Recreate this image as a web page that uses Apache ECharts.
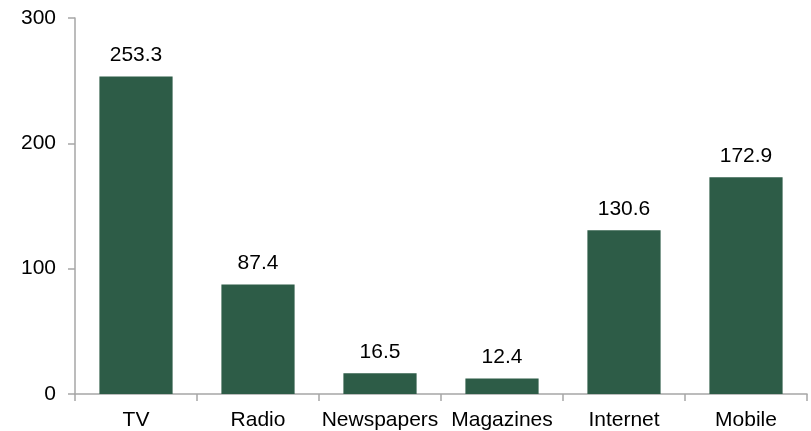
<!DOCTYPE html>
<html><head><meta charset="utf-8">
<script src="https://cdn.jsdelivr.net/npm/echarts@6/dist/echarts.min.js"></script>
<style>html,body{margin:0;padding:0;background:#fff}#c{width:811px;height:431px}</style>
</head><body><div id="c"></div>
<script>
const categories = ["TV","Radio","Newspapers","Magazines","Internet","Mobile"];
const values = [253.3, 87.4, 16.5, 12.4, 130.6, 172.9];
const yTicks = [0, 100, 200, 300];
const chart = echarts.init(document.getElementById('c'));
const font = 'Liberation Sans, Arial, sans-serif';
chart.setOption({
  animation: false,
  grid: {left: 75, right: 4, top: 18, bottom: 37},
  xAxis: {
    type: 'category', data: categories,
    axisLine: {lineStyle: {color: '#A6A6A6', width: 1.5}},
    axisTick: {show: true, length: 7, alignWithLabel: false, interval: 0, lineStyle: {color: '#A6A6A6', width: 1.5}},
    axisLabel: {color: '#000', fontSize: 21, fontFamily: font, margin: 16, interval: 0, hideOverlap: false}
  },
  yAxis: {
    type: 'value', min: yTicks[0], max: yTicks[yTicks.length-1], interval: 100,
    splitLine: {show: false},
    axisLine: {show: true, lineStyle: {color: '#A6A6A6', width: 1.5}},
    axisTick: {show: true, length: 7, lineStyle: {color: '#A6A6A6', width: 1.5}},
    axisLabel: {color: '#000', fontSize: 21, fontFamily: font, margin: 19}
  },
  series: [{
    type: 'bar', data: values, barCategoryGap: '40%',
    itemStyle: {color: '#2D5C47'},
    label: {show: true, position: 'top', distance: 11, color: '#000', fontSize: 21, fontFamily: font,
      formatter: p => p.value.toFixed(1)}
  }]
});
</script></body></html>
